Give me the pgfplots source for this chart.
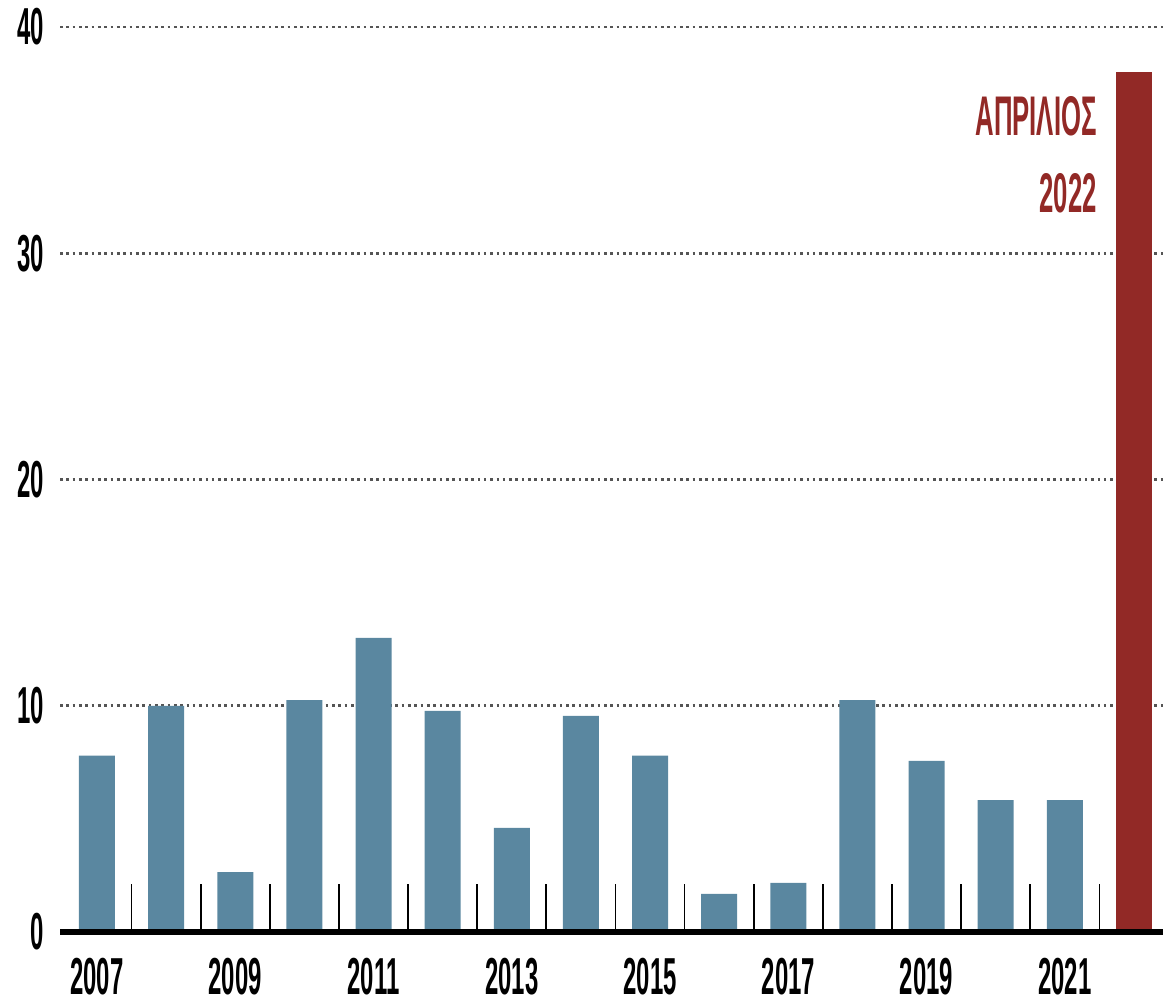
\documentclass[border=0pt]{standalone}
\usepackage{fontspec}
\setmainfont{Liberation Sans}[FakeStretch=0.46]
\usepackage{pgfplots}
\pgfplotsset{compat=1.18}
\definecolor{barblue}{HTML}{5A87A0}
\definecolor{barred}{HTML}{922926}
\definecolor{gridgray}{HTML}{555555}
\begin{document}
\begin{tikzpicture}
\path[use as bounding box] (-0.6cm,-0.72cm) rectangle (11.03cm,9.32cm);
\begin{axis}[
  scale only axis,
  width=11.03cm, height=9.05cm,
  xmin=-0.535, xmax=15.42,
  ymin=0, ymax=40,
  axis x line*=bottom, axis y line*=left,
  x axis line style={draw=none},
  y axis line style={draw=none},
  xtick={0,2,4,6,8,10,12,14},
  xticklabels={2007,2009,2011,2013,2015,2017,2019,2021},
  ytick={0,10,20,30,40},
  major tick length=0pt,
  extra x ticks={0.5,1.5,2.5,3.5,4.5,5.5,6.5,7.5,8.5,9.5,10.5,11.5,12.5,13.5,14.5},
  extra x tick labels={},
  extra x tick style={major tick length=0.48cm, tick align=inside, major tick style={line width=0.5pt, black}},
  ymajorgrids,
  grid style={gridgray, line width=0.75pt, dash pattern=on 0.75pt off 1.05pt},
  /pgf/number format/assume math mode=true,
  tick label style={font=\fontsize{14.8}{18}\selectfont\bfseries, black},
  xticklabel style={anchor=north, inner sep=0pt, yshift=-2.5mm},
  yticklabel style={anchor=east, inner sep=0pt, xshift=-1.5mm},
  clip=false,
]
\addplot[ybar, bar width=0.36cm, fill=barblue, draw=none] coordinates {
(0,7.8) (1,10.0) (2,2.65) (3,10.25) (4,13.0) (5,9.77) (6,4.6) (7,9.55)
(8,7.8) (9,1.68) (10,2.17) (11,10.25) (12,7.56) (13,5.83) (14,5.83)
};
\addplot[ybar, bar width=0.36cm, fill=barred, draw=none] coordinates {(15,38.0)};
\draw[black, line width=1.5pt] (rel axis cs:0,0) -- (rel axis cs:1,0);
\node[anchor=base east, inner sep=0pt, text=barred, font=\fontsize{15.9}{18}\selectfont\bfseries] at (axis cs:14.47,35.2) {ΑΠΡΙΛΙΟΣ};
\node[anchor=base east, inner sep=0pt, text=barred, font=\fontsize{15.9}{18}\selectfont\bfseries] at (axis cs:14.47,31.8) {2022};
\end{axis}
\end{tikzpicture}
\end{document}
